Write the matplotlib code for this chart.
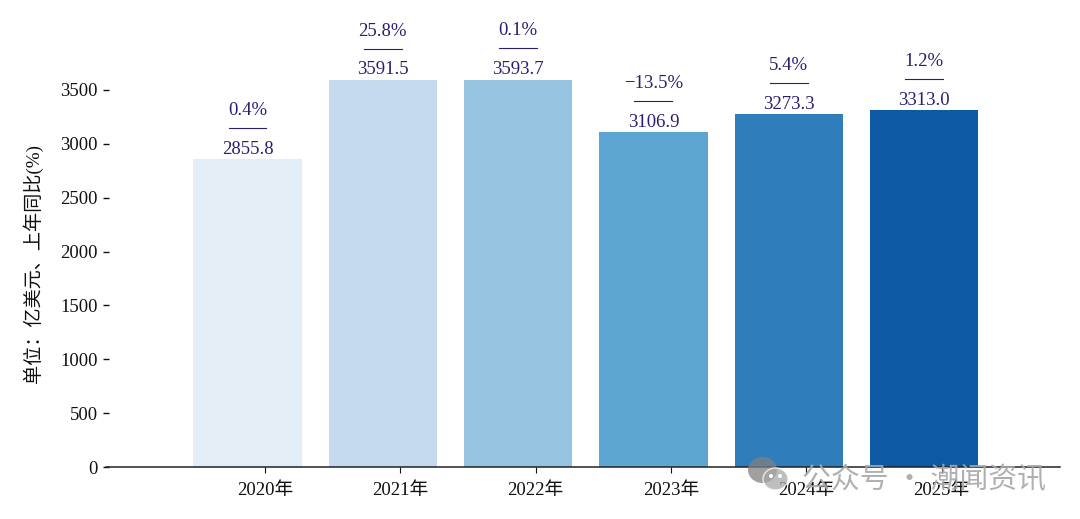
import matplotlib
matplotlib.use("Agg")
import matplotlib.pyplot as plt
from matplotlib.patches import Ellipse
from matplotlib.transforms import IdentityTransform

years = ["2020年", "2021年", "2022年", "2023年", "2024年", "2025年"]
values = [2855.8, 3591.5, 3593.7, 3106.9, 3273.3, 3313.0]
growth = ["0.4%", "25.8%", "0.1%", "\u221213.5%", "5.4%", "1.2%"]
colors = ["#e2edf6", "#c6daef", "#95c3e0", "#5da5d2", "#2f7ebb", "#0e59a4"]
yticks = [0, 500, 1000, 1500, 2000, 2500, 3000, 3500]

FONT = ["Liberation Serif", "Noto Sans CJK SC"]
plt.rcParams["font.family"] = FONT
TXT = "#2a1f6e"

W, H = 1080, 519
fig = plt.figure(figsize=(W / 100, H / 100), dpi=100)
left, right, bottom, top = 106, 1060, 467, 79.2
ax = fig.add_axes([left / W, 1 - bottom / H, (right - left) / W, (bottom - top) / H])

xs = list(range(len(values)))
ax.bar(xs, values, width=0.8, color=colors, linewidth=0, clip_on=False)
ax.set_xlim(-1.046, 6.005)
ax.set_ylim(0, 3600)

for x, v, g in zip(xs, values, growth):
    ax.text(x, v + 15, f"{v:.1f}", ha="center", va="bottom", fontsize=13.5, color=TXT, clip_on=False)
    ax.plot([x - 0.14, x + 0.14], [v + 292, v + 292], color=TXT, lw=0.8, clip_on=False)
    ax.text(x, v + 376, g, ha="center", va="bottom", fontsize=13.5, color=TXT, clip_on=False)

ax.set_xticks([x + 0.13 for x in xs])
ax.set_xticklabels(years, fontsize=13.5)
ax.set_yticks(yticks)
ax.tick_params(axis="x", length=4.5, width=0.8, pad=6, colors="#111111")
ax.tick_params(axis="y", direction="inout", length=5, width=1, pad=3.5, labelsize=13.4, colors="#111111")
ax.set_ylabel("单位：亿美元、上年同比(%)", fontsize=13.8, color="#111111")
ax.yaxis.set_label_coords((43 - 106) / 954, 0.525)

for s in ["top", "right", "left"]:
    ax.spines[s].set_visible(False)
ax.spines["bottom"].set_linewidth(1.1)
ax.spines["bottom"].set_color("#222222")

# watermark
WM = "#a8a8a8"
for cx, cy, rx, ry, fc, ec, lw in [(762.5, 470, 14.5, 13, "#808080", "none", 0),
                                   (775.5, 479, 12.5, 11, WM, "white", 1)]:
    fig.add_artist(Ellipse((cx, H - cy), 2 * rx, 2 * ry, transform=IdentityTransform(),
                           facecolor=fc, edgecolor=ec, linewidth=lw, alpha=0.75))
for cx, cy in [(771, 476), (780, 476)]:
    fig.add_artist(Ellipse((cx, H - cy), 4, 4, transform=IdentityTransform(),
                           facecolor="white", edgecolor="none"))
fig.text(802 / W, 1 - 480 / H, "公众号 · 潮闻资讯", fontsize=20.8, color=WM, va="center", ha="left",
         family=["Noto Sans CJK SC", "Liberation Serif"], alpha=0.9)

fig.savefig("out.png", dpi=100, facecolor="white")
